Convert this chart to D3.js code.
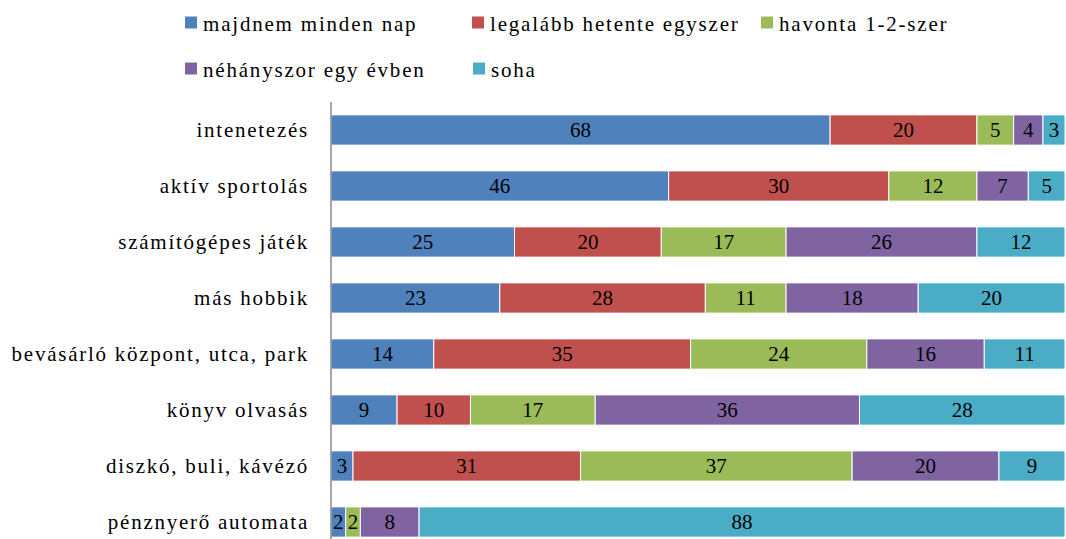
<!DOCTYPE html>
<html>
<head>
<meta charset="utf-8">
<script src="https://cdn.jsdelivr.net/npm/d3@7"></script>
<style>
  body { margin: 0; background: #fff; }
</style>
</head>
<body>
<div id="chart"></div>
<script>
// categories, top to bottom
var categories = ["intenetezés", "aktív sportolás", "számítógépes játék", "más hobbik",
  "bevásárló központ, utca, park", "könyv olvasás", "diszkó, buli,  kávézó", "pénznyerő automata"];

var seriesNames = ["majdnem minden nap", "legalább hetente egyszer", "havonta 1-2-szer",
  "néhányszor egy évben", "soha"];

var colors = ["#4F81BD", "#C0504D", "#9BBB59", "#8064A2", "#4BACC6"];

// values per series, in category order
var naponta  = [68, 46, 25, 23, 14,  9,  3,  2];
var hetente  = [20, 30, 20, 28, 35, 10, 31,  0];
var havonta  = [ 5, 12, 17, 11, 24, 17, 37,  2];
var evente   = [ 4,  7, 26, 18, 16, 36, 20,  8];
var soha     = [ 3,  5, 12, 20, 11, 28,  9, 88];

var seriesValues = [naponta, hetente, havonta, evente, soha];

var serif = "Liberation Serif";
var width = 1066, height = 539;
var margin = {left: 331, right: 0, top: 102};

var svg = d3.select("#chart").append("svg")
  .attr("width", width)
  .attr("height", height)
  .attr("font-family", serif);

var rows = categories.map(function(c, i) {
  var r = {cat: c};
  seriesNames.forEach(function(s, j) { r[s] = seriesValues[j][i]; });
  return r;
});

var stacked = d3.stack().keys(seriesNames)(rows);

var x = d3.scaleLinear().domain([0, 100]).range([margin.left, width - 1]);
var y = d3.scaleBand().domain(categories).range([margin.top, margin.top + 56 * categories.length])
  .paddingInner(0.46).paddingOuter(0.23);

var layers = svg.selectAll("g.layer")
  .data(stacked)
  .enter().append("g")
  .attr("class", "layer")
  .attr("fill", function(d, i) { return colors[i]; });

layers.selectAll("rect")
  .data(function(d) { return d; })
  .enter().append("rect")
  .attr("x", function(d) { return x(d[0]); })
  .attr("y", function(d) { return y(d.data.cat); })
  .attr("width", function(d) { return Math.max(0, x(d[1]) - x(d[0])); })
  .attr("height", y.bandwidth())
  .attr("stroke", "#fff")
  .attr("stroke-width", 1);

layers.selectAll("text")
  .data(function(d) { return d.filter(function(v) { return v[1] - v[0] > 0; }); })
  .enter().append("text")
  .attr("x", function(d) { return (x(d[0]) + x(d[1])) / 2; })
  .attr("y", function(d) { return y(d.data.cat) + y.bandwidth() / 2; })
  .attr("dy", "0.35em")
  .attr("text-anchor", "middle")
  .attr("fill", "#000")
  .attr("font-family", serif)
  .attr("font-size", 21)
  .text(function(d) { return d[1] - d[0]; });

// category axis
var yAxis = svg.append("g")
  .attr("transform", "translate(" + margin.left + ",0)")
  .call(d3.axisLeft(y).tickSize(0).tickPadding(22))
  .attr("font-family", serif)
  .attr("font-size", 21);
yAxis.select(".domain").attr("stroke", "#888").attr("stroke-width", 1.5)
  .attr("d", "M0," + margin.top + "V" + height);
yAxis.selectAll("text")
  .attr("letter-spacing", 1.75)
  .attr("fill", "#000");

// legend
var legendPos = [[185, 22.5], [472, 22.5], [761, 22.5], [185, 68.5], [473, 68.5]];
var legend = svg.selectAll("g.legend")
  .data(seriesNames)
  .enter().append("g")
  .attr("class", "legend")
  .attr("transform", function(d, i) { return "translate(" + legendPos[i][0] + "," + legendPos[i][1] + ")"; });

legend.append("rect")
  .attr("x", 0).attr("y", -6)
  .attr("width", 12).attr("height", 12)
  .attr("fill", function(d, i) { return colors[i]; });

legend.append("text")
  .attr("x", 18)
  .attr("y", 1)
  .attr("dy", "0.35em")
  .attr("fill", "#000")
  .attr("font-family", serif)
  .attr("font-size", 21)
  .attr("letter-spacing", 1.8)
  .text(function(d) { return d; });
</script>
</body>
</html>
